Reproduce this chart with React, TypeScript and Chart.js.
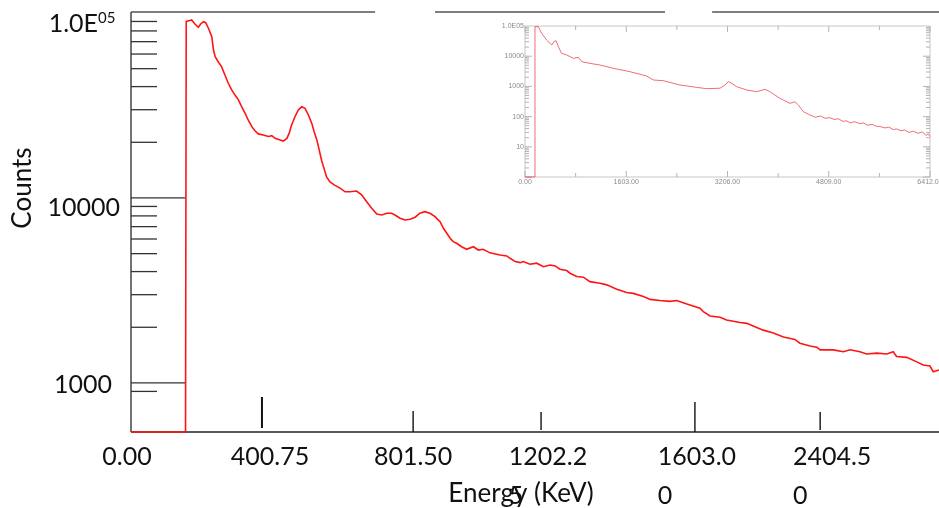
import React, { useEffect, useRef } from "react";
import { Chart, registerables } from "chart.js";

Chart.register(...registerables);

const FONT = "Lato, 'Open Sans', sans-serif";

// ---------------- main spectrum (energy keV, counts) ----------------
const mainEnergy = [
  0, 162, 164, 172, 180, 190, 200, 207, 215, 222,
  230, 240, 245, 250, 259, 269, 279, 289, 299, 309,
  319, 329, 339, 348, 359, 368, 378, 393, 408, 418,
  428, 443, 452, 463, 470, 477, 487, 497, 507, 517,
  527, 537, 544, 552, 559, 566, 573, 581, 591, 606,
  621, 636, 651, 670, 685, 700, 715, 730, 745, 760,
  774, 784, 799, 814, 829, 844, 858, 873, 888, 903,
  918, 928, 938, 948, 957, 967, 982, 997, 1017, 1032,
  1046, 1066, 1096, 1116, 1126, 1141, 1156, 1165, 1185, 1205,
  1225, 1245, 1260, 1274, 1294, 1304, 1324, 1344, 1363, 1393,
  1413, 1443, 1472, 1492, 1522, 1542, 1571, 1601, 1621, 1651,
  1690, 1700, 1720, 1750, 1769, 1809, 1829, 1848, 1878, 1908,
  1938, 1972, 1987, 2017, 2037, 2047, 2086, 2116, 2136, 2165,
  2185, 2215, 2245, 2264, 2274, 2304, 2334, 2353, 2373, 2383, 2400,
];
const mainCounts = [
  0, 0, 90000, 90900, 91700, 87200, 83700, 87200, 89700, 88600,
  82700, 74400, 63100, 58000, 54500, 51300, 46200, 41700, 38400, 36000,
  33900, 31100, 28700, 26400, 24300, 23100, 22200, 21900, 21500, 21700,
  21000, 20600, 20300, 21000, 22400, 24800, 27500, 29900, 31100, 30500,
  28100, 25300, 22800, 20600, 18200, 16000, 14500, 13000, 12200, 11700,
  11300, 10800, 10800, 10900, 10400, 9550, 8800, 8190, 8090, 8270,
  8270, 8090, 7770, 7600, 7670, 7870, 8270, 8430, 8270, 7930,
  7450, 6860, 6450, 6060, 5810, 5690, 5450, 5280, 5450, 5230,
  5280, 5050, 4920, 4860, 4720, 4530, 4470, 4530, 4380, 4440,
  4250, 4340, 4290, 4120, 4050, 3920, 3760, 3730, 3530, 3460,
  3390, 3210, 3080, 3050, 2930, 2830, 2790, 2760, 2790, 2670,
  2535, 2430, 2300, 2265, 2190, 2120, 2100, 2030, 1930, 1860,
  1770, 1720, 1640, 1585, 1560, 1510, 1510, 1475, 1510, 1475,
  1435, 1450, 1435, 1475, 1390, 1375, 1300, 1250, 1235, 1150, 1175,
];
const mainXMax = 2400;
const mainYMin = 543;
const mainYMax = 100000;

const mainYMajorTicks = [10000, 1000];
const mainYMinorTicks = [
  90000, 80000, 70000, 60000, 50000, 40000, 30000, 20000,
  9000, 8000, 7000, 6000, 5000, 4000, 3000, 2000, 900,
];
const mainYLabelValues = [100000, 10000, 1000];
const mainYLabels = ["1.0E", "10000", "1000"];
const mainYLabelSup = ["05", "", ""];

const mainXTickValues = [0, 389, 838, 1218, 1675, 2047];
const mainXTickLabels = [
  ["0.00"],
  ["400.75"],
  ["801.50"],
  ["1202.2", "5"],
  ["1603.0", "0"],
  ["2404.5", "0"],
];
const mainTopGaps = [
  [725, 903],
  [1586, 1726],
];

// ---------------- inset spectrum ----------------
const insetEnergy = [
  0, 150, 158, 211, 264, 343, 396, 422, 459, 491,
  528, 580, 660, 765, 844, 897, 1029, 1187, 1398, 1662,
  1926, 2031, 2190, 2454, 2718, 2876, 3087, 3166, 3219, 3272,
  3351, 3509, 3668, 3799, 3878, 4037, 4195, 4274, 4327, 4406,
  4512, 4600, 4680, 4750, 4828, 4900, 4960, 5030, 5092, 5150,
  5220, 5300, 5356, 5420, 5500, 5560, 5620, 5700, 5760, 5830,
  5884, 5950, 6010, 6080, 6148, 6220, 6290, 6350, 6385, 6412,
];
const insetCounts = [
  0, 0, 94800, 95000, 57200, 34400, 26700, 23500, 30300, 32700,
  20700, 12400, 11000, 8500, 9200, 6600, 5800, 5100, 3980, 3070,
  2210, 1630, 1545, 1110, 930, 840, 870, 1110, 1435, 1265,
  980, 760, 670, 800, 670, 400, 275, 312, 242, 146,
  113, 95, 105, 88, 92, 80, 85, 70, 72, 62,
  68, 58, 62, 52, 55, 48, 47, 42, 45, 37,
  39, 34, 36, 30, 33, 28, 31, 24, 27, 22,
];
const insetXMax = 6412;
const insetYMin = 1;
const insetYMax = 100000;
const insetXTicks = [0, 1603, 3206, 4809, 6412];
const insetXTickLabels = ["0.00", "1603.00", "3206.00", "4809.00", "6412.00"];
const insetXMinorTicks = [801.5, 2404.5, 4007.5, 5610.5];
const insetYTicks = [100000, 10000, 1000, 100, 10];
const insetYTickLabels = ["1.0E05", "10000", "1000", "100", "10"];
const insetDecades = [1, 10, 100, 1000, 10000];

function seg(ctx: CanvasRenderingContext2D, x1: number, y1: number, x2: number, y2: number) {
  ctx.beginPath();
  ctx.moveTo(x1, y1);
  ctx.lineTo(x2, y2);
  ctx.stroke();
}

// tick mark geometry (distance above axis: [top, bottom]) and label shifts, style only
const xMarkSpan = [[0, 0], [35, 4], [21, 0], [20, 2], [30, 0], [20, 2]];
const xLabelShift = [-4, 8, 0, 7, 2, 12];
const yLabelRight = [33, 11, 19];
const yLabelDown = [19, 18, 10];

const mainDecor = {
  id: "mainDecor",
  beforeDatasetsDraw(chart: any) {
    const { ctx, chartArea: a } = chart;
    const x = chart.scales.x;
    const y = chart.scales.y;
    ctx.save();
    ctx.lineCap = "butt";
    // top border with gaps
    ctx.strokeStyle = "#555";
    ctx.lineWidth = 1.6;
    let start = a.left;
    for (const [g0, g1] of mainTopGaps) {
      seg(ctx, start, a.top - 1, x.getPixelForValue(g0), a.top - 1);
      start = x.getPixelForValue(g1);
    }
    seg(ctx, start, a.top - 1, a.right, a.top - 1);
    // y axis
    ctx.strokeStyle = "#444";
    ctx.lineWidth = 1.5;
    seg(ctx, a.left, a.top - 1, a.left, a.bottom);
    // x axis
    ctx.strokeStyle = "#222";
    seg(ctx, a.left, a.bottom, a.right, a.bottom);
    // y ticks
    ctx.strokeStyle = "#333";
    ctx.lineWidth = 1.3;
    for (const v of mainYMinorTicks) {
      const py = y.getPixelForValue(v);
      seg(ctx, a.left, py, a.left + 26, py);
    }
    for (const v of mainYMajorTicks) {
      const py = y.getPixelForValue(v);
      seg(ctx, a.left, py, a.left + 54, py);
    }
    // x tick marks (drawn inside, above the axis)
    ctx.strokeStyle = "#111";
    mainXTickValues.forEach((v, i) => {
      if (i === 0) return;
      const px = x.getPixelForValue(v);
      ctx.lineWidth = i === 1 ? 2 : 1.4;
      seg(ctx, px, a.bottom - xMarkSpan[i][0], px, a.bottom - xMarkSpan[i][1]);
    });
    ctx.restore();
  },
  afterDraw(chart: any) {
    const { ctx, chartArea: a } = chart;
    const x = chart.scales.x;
    const y = chart.scales.y;
    ctx.save();
    ctx.fillStyle = "#111";
    // y labels
    mainYLabelValues.forEach((v, i) => {
      const py = y.getPixelForValue(v);
      ctx.font = `25px ${FONT}`;
      ctx.textAlign = "right";
      ctx.textBaseline = "alphabetic";
      ctx.fillText(mainYLabels[i], a.left - yLabelRight[i], py + yLabelDown[i]);
      if (mainYLabelSup[i]) {
        ctx.font = `15px ${FONT}`;
        ctx.textAlign = "left";
        ctx.fillText(mainYLabelSup[i], a.left - yLabelRight[i], py + yLabelDown[i] - 9);
      }
    });
    // x labels
    ctx.font = `25px ${FONT}`;
    ctx.textBaseline = "middle";
    mainXTickValues.forEach((v, i) => {
      const lines = mainXTickLabels[i];
      const cx = x.getPixelForValue(v) + xLabelShift[i];
      const w = ctx.measureText(lines[0]).width;
      ctx.textAlign = "left";
      ctx.fillText(lines[0], cx - w / 2, a.bottom + 25);
      if (lines[1]) ctx.fillText(lines[1], cx - w / 2, a.bottom + 64);
    });
    // axis titles
    ctx.font = `26px ${FONT}`;
    ctx.textAlign = "center";
    ctx.fillText("Energy (KeV)", 521, a.bottom + 62);
    ctx.translate(23, 188);
    ctx.rotate(-Math.PI / 2);
    ctx.fillText("Counts", 0, 0);
    ctx.restore();
  },
};

const insetDecor = {
  id: "insetDecor",
  beforeDatasetsDraw(chart: any) {
    const { ctx, chartArea: a } = chart;
    const x = chart.scales.x;
    const y = chart.scales.y;
    ctx.save();
    ctx.strokeStyle = "#c6c6c6";
    ctx.lineWidth = 1;
    ctx.strokeRect(a.left, a.top, a.right - a.left, a.bottom - a.top);
    ctx.strokeStyle = "#b4b4b4";
    for (const d of insetDecades) {
      for (let m = 1; m <= 9; m++) {
        const py = y.getPixelForValue(m * d);
        const len = m === 1 ? 7 : 4;
        seg(ctx, a.left, py, a.left + len, py);
        seg(ctx, a.right, py, a.right - len, py);
      }
    }
    for (const v of insetXTicks) {
      const px = x.getPixelForValue(v);
      seg(ctx, px, a.top, px, a.top + 6);
      seg(ctx, px, a.bottom, px, a.bottom - 6);
    }
    for (const v of insetXMinorTicks) {
      const px = x.getPixelForValue(v);
      seg(ctx, px, a.top, px, a.top + 4);
      seg(ctx, px, a.bottom, px, a.bottom - 4);
    }
    ctx.fillStyle = "#8a8a8a";
    ctx.font = "7px 'Liberation Sans', sans-serif";
    ctx.textAlign = "right";
    ctx.textBaseline = "middle";
    insetYTicks.forEach((v, i) => {
      ctx.fillText(insetYTickLabels[i], a.left - 1, y.getPixelForValue(v));
    });
    ctx.textAlign = "center";
    insetXTicks.forEach((v, i) => {
      ctx.fillText(insetXTickLabels[i], x.getPixelForValue(v), a.bottom + 5);
    });
    ctx.restore();
  },
};

export default function App() {
  const mainRef = useRef<HTMLCanvasElement | null>(null);
  const insetRef = useRef<HTMLCanvasElement | null>(null);

  useEffect(() => {
    const main = new Chart(mainRef.current as HTMLCanvasElement, {
      type: "line",
      data: {
        datasets: [
          {
            data: mainEnergy.map((e, i) => ({ x: e, y: Math.max(mainCounts[i], mainYMin) })),
            borderColor: "#ff1414",
            borderWidth: 1.6,
            pointRadius: 0,
            tension: 0,
            fill: false,
            clip: 3,
          },
        ],
      },
      options: {
        responsive: false,
        animation: false,
        events: [],
        layout: { padding: { left: 131, top: 13, right: 0, bottom: 76 } },
        plugins: { legend: { display: false }, tooltip: { enabled: false } },
        scales: {
          x: { type: "linear", min: 0, max: mainXMax, display: false },
          y: { type: "logarithmic", min: mainYMin, max: mainYMax, display: false },
        },
      },
      plugins: [mainDecor],
    } as any);

    const inset = new Chart(insetRef.current as HTMLCanvasElement, {
      type: "line",
      data: {
        datasets: [
          {
            data: insetEnergy.map((e, i) => ({ x: e, y: Math.max(insetCounts[i], insetYMin) })),
            borderColor: "rgba(232,60,72,0.75)",
            borderWidth: 1,
            pointRadius: 0,
            tension: 0,
            fill: false,
            clip: 2,
          },
        ],
      },
      options: {
        responsive: false,
        animation: false,
        events: [],
        layout: { padding: { left: 38, top: 12, right: 9, bottom: 17 } },
        plugins: { legend: { display: false }, tooltip: { enabled: false } },
        scales: {
          x: { type: "linear", min: 0, max: insetXMax, display: false },
          y: { type: "logarithmic", min: insetYMin, max: insetYMax, display: false },
        },
      },
      plugins: [insetDecor],
    } as any);

    return () => {
      main.destroy();
      inset.destroy();
    };
  }, []);

  return (
    <div style={{ position: "fixed", left: 0, top: 0, width: 939, height: 508, background: "#fff" }}>
      <canvas ref={mainRef} width={939} height={508} style={{ position: "absolute", left: 0, top: 0, display: "block" }} />
      <canvas ref={insetRef} width={452} height={180} style={{ position: "absolute", left: 487, top: 14, display: "block" }} />
    </div>
  );
}
